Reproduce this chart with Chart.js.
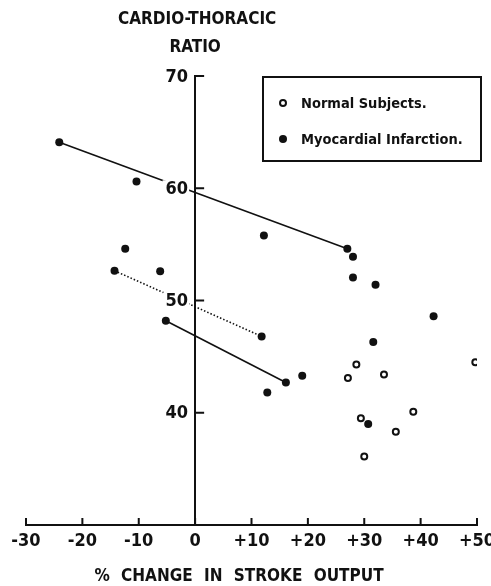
<!DOCTYPE html>
<html>
<head>
<meta charset="utf-8">
<script src="https://cdn.jsdelivr.net/npm/chart.js@4/dist/chart.umd.min.js"></script>
<style>
  body { margin: 0; background: #fff; }
  #wrap { width: 491px; height: 586px; }
</style>
</head>
<body>
<div id="wrap"><canvas id="ctrChart" width="491" height="586"></canvas></div>
<script>
// values
const normalX = [28.6, 27.1, 33.5, 49.7, 38.7, 29.4, 35.6, 30.0];
const normalY = [44.3, 43.1, 43.4, 44.5, 40.1, 39.5, 38.3, 36.1];

const miX = [-24.1, -10.4, -12.4, -14.3, -6.2, -5.2, 12.2, 27.0, 28.0, 28.0, 32.0, 11.8, 31.6, 16.1, 19.0, 12.8, 30.7, 42.3];
const miY = [64.1, 60.6, 54.6, 52.65, 52.6, 48.2, 55.8, 54.6, 53.9, 52.05, 51.4, 46.8, 46.3, 42.7, 43.3, 41.8, 39.0, 48.6];

// before/after pairs joined by a line (indices into the MI arrays)
const solidPairs = [[0, 7], [5, 13]];
const dottedPairs = [[3, 11]];

const xTicks = [-30, -20, -10, 0, 10, 20, 30, 40, 50];
const yTicks = [40, 50, 60, 70];

const yTitle = ['CARDIO-THORACIC', 'RATIO'];
const xTitle = '% CHANGE IN STROKE OUTPUT';

const FONT = '"Liberation Sans Narrow", "DejaVu Sans Condensed", "DejaVu Sans", sans-serif';
const INK = '#111';

function toPoints(xs, ys) {
  return xs.map((x, i) => ({ x: x, y: ys[i] }));
}

function pairDataset(pair, dashed) {
  return {
    label: '',
    data: pair.map(i => ({ x: miX[i], y: miY[i] })),
    showLine: true,
    borderColor: INK,
    borderWidth: 1.6,
    borderDash: dashed ? [1.5, 2] : [],
    pointRadius: 0,
    hitRadius: 0,
    inLegend: false
  };
}

let datasets = [];
solidPairs.forEach(p => datasets.push(pairDataset(p, false)));
dottedPairs.forEach(p => datasets.push(pairDataset(p, true)));
datasets.push({
  label: 'Normal Subjects.',
  data: toPoints(normalX, normalY),
  pointStyle: 'circle',
  pointRadius: 3,
  pointBorderWidth: 2,
  pointBackgroundColor: '#fff',
  pointBorderColor: INK,
  inLegend: true
});
datasets.push({
  label: 'Myocardial Infarction.',
  data: toPoints(miX, miY),
  pointStyle: 'circle',
  pointRadius: 4,
  pointBorderWidth: 0,
  pointBackgroundColor: INK,
  pointBorderColor: INK,
  inLegend: true
});

// inward tick marks, y labels, titles and the boxed key
const decorations = {
  id: 'decorations',
  afterDraw(chart) {
    const ctx = chart.ctx;
    const xs = chart.scales.x;
    const ys = chart.scales.y;
    const x0 = xs.getPixelForValue(0);
    const yBottom = ys.getPixelForValue(30);

    ctx.save();
    ctx.strokeStyle = INK;
    ctx.lineWidth = 2;
    ctx.beginPath();
    xTicks.forEach(v => {
      const px = xs.getPixelForValue(v);
      ctx.moveTo(px, yBottom);
      ctx.lineTo(px, yBottom - 7);
    });
    yTicks.forEach(v => {
      const py = ys.getPixelForValue(v);
      ctx.moveTo(x0, py);
      ctx.lineTo(x0 + 9, py);
    });
    ctx.stroke();

    // y labels sit left of the axis, blanking the line behind them
    ctx.font = 'bold 18px ' + FONT;
    ctx.textAlign = 'right';
    ctx.textBaseline = 'middle';
    yTicks.forEach(v => {
      const py = ys.getPixelForValue(v);
      const label = String(v);
      const w = ctx.measureText(label).width;
      ctx.fillStyle = '#fff';
      ctx.fillRect(x0 - 8 - w - 2, py - 8, w + 4, 16);
      ctx.fillStyle = INK;
      ctx.fillText(label, x0 - 7, py + 1);
    });

    // titles
    ctx.fillStyle = INK;
    ctx.textAlign = 'center';
    ctx.font = 'bold 17px ' + FONT;
    ctx.fillText(yTitle[0], x0 + 2, 20);
    ctx.fillText(yTitle[1], x0, 48);
    if ('wordSpacing' in ctx) ctx.wordSpacing = '6px';
    ctx.fillText(xTitle, 239, 577);
    if ('wordSpacing' in ctx) ctx.wordSpacing = '0px';

    // key
    const bx = 263, by = 77, bw = 218, bh = 84;
    ctx.lineWidth = 2;
    ctx.strokeStyle = INK;
    ctx.strokeRect(bx, by, bw, bh);
    ctx.textAlign = 'left';
    ctx.font = 'bold 14.5px ' + FONT;
    const items = chart.data.datasets.filter(d => d.inLegend);
    items.forEach((d, i) => {
      const cy = by + 26 + i * 36;
      ctx.beginPath();
      ctx.arc(bx + 20, cy, d.pointRadius, 0, Math.PI * 2);
      ctx.fillStyle = d.pointBackgroundColor;
      ctx.fill();
      if (d.pointBorderWidth) {
        ctx.lineWidth = d.pointBorderWidth;
        ctx.strokeStyle = d.pointBorderColor;
        ctx.stroke();
      }
      ctx.fillStyle = INK;
      ctx.fillText(d.label, bx + 38, cy + 1);
    });
    ctx.restore();
  }
};

new Chart(document.getElementById('ctrChart'), {
  type: 'scatter',
  data: { datasets: datasets },
  options: {
    responsive: false,
    animation: false,
    layout: { padding: { left: 26, right: 14, top: 76, bottom: 61 } },
    plugins: {
      legend: { display: false },
      title: { display: false },
      tooltip: { enabled: false }
    },
    scales: {
      x: {
        type: 'linear',
        min: -30,
        max: 50,
        position: { y: 30 },
        grid: { display: false, drawTicks: false },
        border: { display: true, color: INK, width: 2 },
        afterBuildTicks: s => { s.ticks = xTicks.map(v => ({ value: v })); },
        afterFit: s => { s.paddingLeft = 0; s.paddingRight = 0; },
        ticks: {
          color: INK,
          padding: 6,
          maxRotation: 0,
          font: { family: FONT, size: 18, weight: 'bold' },
          callback: v => (v > 0 ? '+' + v : String(v))
        }
      },
      y: {
        type: 'linear',
        min: 30,
        max: 70,
        position: { x: 0 },
        grid: { display: false, drawTicks: false },
        border: { display: true, color: INK, width: 2 },
        afterBuildTicks: s => { s.ticks = yTicks.map(v => ({ value: v })); },
        afterFit: s => { s.paddingTop = 0; s.paddingBottom = 0; },
        ticks: { display: false }
      }
    }
  },
  plugins: [decorations]
});
</script>
</body>
</html>
